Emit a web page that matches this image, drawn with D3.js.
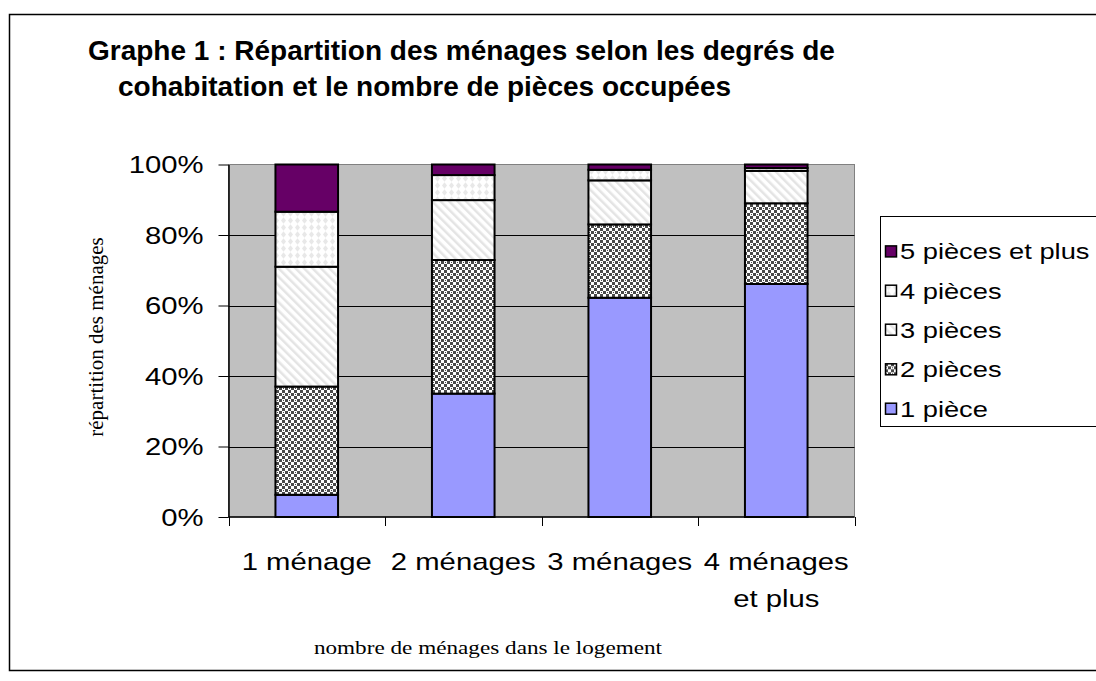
<!DOCTYPE html>
<html lang="fr">
<head>
<meta charset="utf-8">
<title>Graphe 1</title>
<script src="https://cdn.jsdelivr.net/npm/d3@7"></script>
<style>
  body { margin: 0; background: #fff; }
  svg { display: block; }
  .sans { font-family: "Liberation Sans", Arial, sans-serif; fill: #000; }
  .serif { font-family: "Liberation Serif", "Times New Roman", serif; fill: #000; }
</style>
</head>
<body>
<div id="chart"></div>
<script>
// data (percent of households)
const categories = ["1 ménage", "2 ménages", "3 ménages", "4 ménages et plus"];
const seriesNames = ["1 pièce", "2 pièces", "3 pièces", "4 pièces", "5 pièces et plus"];
const piece1 = [6.3, 35.0, 62.2, 66.1];
const piece2 = [30.7, 37.9, 20.8, 22.9];
const piece3 = [34.0, 17.0, 12.5, 9.2];
const piece4 = [15.6, 7.1, 3.0, 0.8];
const piece5 = [13.4, 3.0, 1.5, 1.0];
const yTicks = [0, 20, 40, 60, 80, 100];

const W = 1096, H = 681;
const SX = 1.22; // text in the picture is drawn a bit wide

const svg = d3.select("#chart").append("svg")
  .attr("width", W).attr("height", H);

// patterns for the segments
const defs = svg.append("defs");
const p2 = defs.append("pattern").attr("id", "pat2").attr("patternUnits", "userSpaceOnUse")
  .attr("width", 6).attr("height", 6);
p2.append("rect").attr("width", 6).attr("height", 6).attr("fill", "#fff");
p2.append("rect").attr("x", 0).attr("y", 0).attr("width", 3).attr("height", 3).attr("fill", "#4a4a4a");
p2.append("rect").attr("x", 3).attr("y", 3).attr("width", 3).attr("height", 3).attr("fill", "#4a4a4a");
p2.append("rect").attr("x", 1).attr("y", 4).attr("width", 1).attr("height", 1).attr("fill", "#4a4a4a");

const p3 = defs.append("pattern").attr("id", "pat3").attr("patternUnits", "userSpaceOnUse")
  .attr("width", 6).attr("height", 6).attr("patternTransform", "rotate(-45)");
p3.append("rect").attr("width", 6).attr("height", 6).attr("fill", "#fff");
p3.append("rect").attr("width", 2.5).attr("height", 6).attr("fill", "#e4e4e4");

const p4 = defs.append("pattern").attr("id", "pat4").attr("patternUnits", "userSpaceOnUse")
  .attr("width", 7).attr("height", 7);
p4.append("rect").attr("width", 7).attr("height", 7).attr("fill", "#fff");
p4.append("path").attr("d", "M3.5,0.3L6,3.5L3.5,6.7L1,3.5Z").attr("fill", "#e8e8e8");

const fills = ["#9999ff", "url(#pat2)", "url(#pat3)", "url(#pat4)", "#660066"];

// outer frame
svg.append("rect").attr("x", 9.5).attr("y", 14.5).attr("width", 1100).attr("height", 656)
  .attr("fill", "none").attr("stroke", "#000").attr("stroke-width", 1.5);

// title
const title = svg.append("g").attr("class", "sans").style("font-weight", "bold").style("font-size", "28px");
title.append("text").attr("x", 88).attr("y", 60).text("Graphe 1 : Répartition des ménages selon les degrés de");
title.append("text").attr("x", 118).attr("y", 96).text("cohabitation et le nombre de pièces occupées");

// scales
const x = d3.scaleBand().domain(categories).range([228.5, 854.5])
  .paddingInner(0.6).paddingOuter(0.3);
const y = d3.scaleLinear().domain([0, 100]).range([517, 164.5]);

// plot area
svg.append("rect").attr("x", x.range()[0]).attr("y", y(100))
  .attr("width", x.range()[1] - x.range()[0]).attr("height", y(0) - y(100))
  .attr("fill", "#c0c0c0").attr("stroke", "#808080").attr("stroke-width", 1);

// gridlines
svg.append("g").selectAll("line").data(yTicks.filter(d => d > 0 && d < 100)).join("line")
  .attr("x1", x.range()[0]).attr("x2", x.range()[1])
  .attr("y1", d => Math.round(y(d)) + 0.5).attr("y2", d => Math.round(y(d)) + 0.5)
  .attr("stroke", "#000").attr("stroke-width", 1);

// stacked bars
const table = categories.map((c, i) => ({
  cat: c, "1 pièce": piece1[i], "2 pièces": piece2[i], "3 pièces": piece3[i],
  "4 pièces": piece4[i], "5 pièces et plus": piece5[i]
}));
const stacked = d3.stack().keys(seriesNames)(table);

svg.append("g").selectAll("g").data(stacked).join("g")
  .attr("fill", (d, i) => fills[i])
  .selectAll("rect").data(d => d).join("rect")
  .attr("x", d => x(d.data.cat))
  .attr("width", x.bandwidth())
  .attr("y", d => y(d[1]))
  .attr("height", d => y(d[0]) - y(d[1]))
  .attr("stroke", "#000").attr("stroke-width", 2);

// y axis
const yAxis = svg.append("g").attr("transform", "translate(" + x.range()[0] + ",0)")
  .call(d3.axisLeft(y).tickValues(yTicks).tickFormat(d => d + "%").tickSize(10).tickSizeOuter(0));
yAxis.select(".domain").attr("stroke", "#000").attr("stroke-width", 1.5);
yAxis.selectAll(".tick line").attr("stroke", "#000");
yAxis.selectAll(".tick text")
  .attr("class", "sans").style("font-size", "24px").attr("fill", "#000")
  .attr("x", -25 / SX).attr("dy", "0.35em")
  .attr("transform", "scale(" + SX + ",1)");

// x axis line and ticks at the band edges
const edges = categories.map(c => x(c) + x.bandwidth() / 2 - x.step() / 2)
  .concat([x.range()[1]]);
svg.append("line").attr("x1", x.range()[0]).attr("x2", x.range()[1])
  .attr("y1", y(0)).attr("y2", y(0)).attr("stroke", "#000").attr("stroke-width", 1.5);
svg.append("g").selectAll("line").data(edges).join("line")
  .attr("x1", d => Math.round(d) + 0.5).attr("x2", d => Math.round(d) + 0.5)
  .attr("y1", y(0)).attr("y2", y(0) + 9).attr("stroke", "#000");

// x labels (last one wraps)
const xLab = svg.append("g").attr("class", "sans").style("font-size", "24px");
categories.forEach(c => {
  const lines = c === "4 ménages et plus" ? ["4 ménages", "et plus"] : [c];
  lines.forEach((ln, j) => {
    xLab.append("text")
      .attr("transform", "translate(" + (x(c) + x.bandwidth() / 2) + "," + (570 + j * 37) + ") scale(" + SX + ",1)")
      .attr("text-anchor", "middle").text(ln);
  });
});

// axis titles
svg.append("text").attr("class", "serif").style("font-size", "21px")
  .attr("transform", "translate(103,337) rotate(-90)")
  .attr("text-anchor", "middle").text("répartition des ménages");
svg.append("text").attr("class", "serif").style("font-size", "19px")
  .attr("transform", "translate(488,654) scale(" + SX + ",1)")
  .attr("text-anchor", "middle").text("nombre de ménages dans le logement");

// legend
svg.append("rect").attr("x", 880.5).attr("y", 216.5).attr("width", 230).attr("height", 210)
  .attr("fill", "#fff").attr("stroke", "#000").attr("stroke-width", 1);
const legendY = [408.7, 369.3, 329.7, 290.7, 251.4];
const leg = svg.append("g").selectAll("g").data(seriesNames).join("g")
  .attr("transform", (d, i) => "translate(885," + legendY[i] + ")");
leg.append("rect").attr("x", 0.5).attr("y", -5.5).attr("width", 11).attr("height", 11)
  .attr("fill", (d, i) => fills[i]).attr("stroke", "#000").attr("stroke-width", 1.5);
leg.append("text").attr("class", "sans").style("font-size", "22px")
  .attr("transform", "translate(15,0) scale(1.24,1)")
  .attr("dy", "0.36em").text(d => d);
</script>
</body>
</html>
